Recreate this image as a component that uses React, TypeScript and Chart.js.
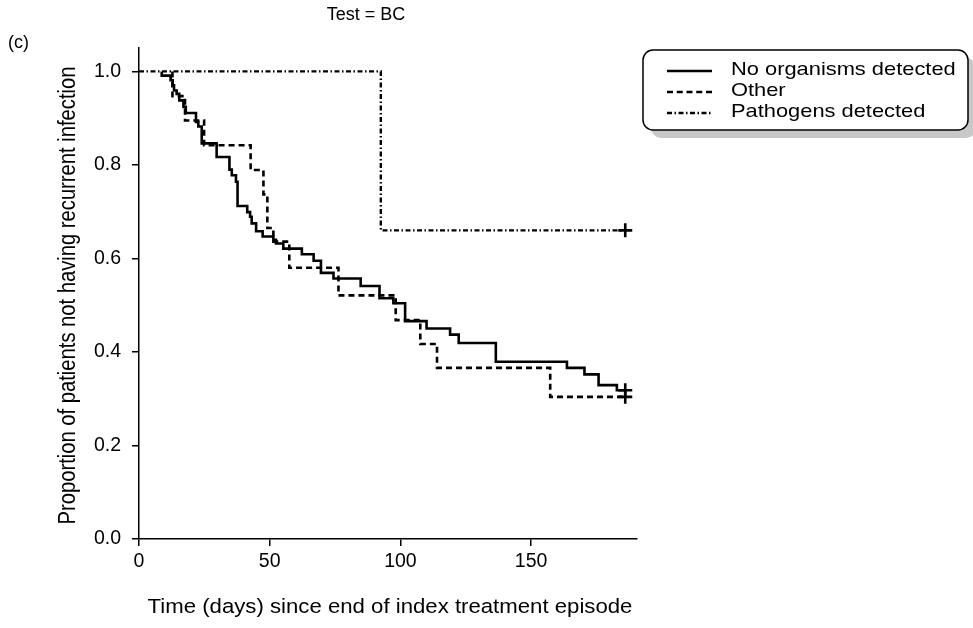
import React, { useEffect, useRef } from "react";
import { Chart, registerables } from "chart.js";

Chart.register(...registerables);

// ---- data ----
const seriesLabels = ["No organisms detected", "Other", "Pathogens detected"];

const noOrgDays = [8.7, 8.7, 12.1, 12.9, 13.4, 14.4, 15.4, 17, 17.9, 21.8, 22.7, 24, 29.7, 34.6, 35.5, 37.1, 37.7, 41.4, 42.5, 43.1, 44.8, 47.3, 51.4, 52.4, 55.2, 62.3, 66.8, 69.6, 74.4, 84.8, 92, 97.3, 101.8, 110, 119, 122.3, 136.5, 163.7, 170.4, 175.8, 182.8, 186];
const noOrgSurv = [1, 0.991, 0.981, 0.97, 0.959, 0.952, 0.938, 0.924, 0.911, 0.892, 0.882, 0.846, 0.817, 0.79, 0.778, 0.764, 0.712, 0.699, 0.689, 0.675, 0.658, 0.647, 0.64, 0.632, 0.621, 0.609, 0.595, 0.569, 0.557, 0.541, 0.515, 0.504, 0.466, 0.45, 0.437, 0.419, 0.379, 0.366, 0.352, 0.329, 0.318, 0.318];

const otherDays = [12.8, 12.8, 17.6, 24.9, 42.7, 47.6, 49.1, 51.4, 57.5, 76.3, 98.2, 107.6, 114, 157.3, 186];
const otherSurv = [1, 0.947, 0.895, 0.842, 0.789, 0.737, 0.665, 0.636, 0.58, 0.521, 0.468, 0.417, 0.366, 0.304, 0.304];

const pathDays = [0, 92.5, 186];
const pathSurv = [1, 0.66, 0.66];

const censorDays = [186, 186, 186];
const censorSurv = [0.318, 0.304, 0.66];

const xTicks = [0, 50, 100, 150];
const yTicks = [0, 0.2, 0.4, 0.6, 0.8, 1.0];

const panelLabel = "(c)";
const chartTitle = "Test = BC";
const xTitle = "Time (days) since end of index treatment episode";
const yTitle = "Proportion of patients not having recurrent infection";

// ---- styles ----
const FONT = '"Liberation Sans", Arial, Helvetica, sans-serif';
const dashStyles: number[][] = [[], [6, 4], [5, 2.5, 1.5, 2.5]];
const lineWidths = [2.6, 2.6, 2.4];

const toPoints = (xs: number[], ys: number[]) => xs.map((x, i) => ({ x, y: ys[i] }));

export default function App() {
  const ref = useRef<HTMLCanvasElement>(null);

  useEffect(() => {
    const canvas = ref.current;
    if (!canvas) return;

    const annot = {
      id: "annot",
      afterDraw(chart: any) {
        const ctx = chart.ctx as CanvasRenderingContext2D;
        const area = chart.chartArea;
        const txt = (s: string, x: number, y: number, size: number, align: CanvasTextAlign, stretch = 1.15) => {
          ctx.save();
          ctx.font = `${size}px ${FONT}`;
          ctx.fillStyle = "#000";
          ctx.textBaseline = "middle";
          ctx.textAlign = align;
          ctx.translate(x, y);
          ctx.scale(stretch, 1);
          ctx.fillText(s, 0, 0);
          ctx.restore();
        };
        txt(panelLabel, 8, 43, 18, "left", 1);
        txt(chartTitle, 366, 15, 18, "center", 1);
        txt(xTitle, (area.left + area.right) / 2 + 2, 608, 19.3, "center");

        // y title (rotated)
        ctx.save();
        ctx.translate(69, (area.top + area.bottom) / 2 + 2);
        ctx.rotate(-Math.PI / 2);
        ctx.scale(1, 1.15);
        ctx.font = `20.2px ${FONT}`;
        ctx.fillStyle = "#000";
        ctx.textAlign = "center";
        ctx.textBaseline = "middle";
        ctx.fillText(yTitle, 0, 0);
        ctx.restore();

        // legend box with shadow
        const bx = 643, by = 50, bw = 325, bh = 80, r = 10;
        const rr = (x: number, y: number) => {
          ctx.beginPath();
          ctx.moveTo(x + r, y);
          ctx.lineTo(x + bw - r, y);
          ctx.arcTo(x + bw, y, x + bw, y + r, r);
          ctx.lineTo(x + bw, y + bh - r);
          ctx.arcTo(x + bw, y + bh, x + bw - r, y + bh, r);
          ctx.lineTo(x + r, y + bh);
          ctx.arcTo(x, y + bh, x, y + bh - r, r);
          ctx.lineTo(x, y + r);
          ctx.arcTo(x, y, x + r, y, r);
          ctx.closePath();
        };
        ctx.save();
        rr(bx + 8, by + 8);
        ctx.fillStyle = "#c8c8c8";
        ctx.fill();
        rr(bx, by);
        ctx.fillStyle = "#fff";
        ctx.fill();
        ctx.lineWidth = 1.5;
        ctx.strokeStyle = "#000";
        ctx.stroke();
        ctx.restore();

        const rows = [70, 91, 112];
        seriesLabels.forEach((lab, i) => {
          ctx.save();
          ctx.strokeStyle = "#000";
          ctx.lineWidth = lineWidths[i];
          ctx.setLineDash(i === 1 ? [6, 3.75] : dashStyles[i]);
          ctx.beginPath();
          ctx.moveTo(667, rows[i] + 1);
          ctx.lineTo(712, rows[i] + 1);
          ctx.stroke();
          ctx.restore();
          txt(lab, 731, rows[i], 19, "left");
        });
      },
    };

    const mkLine = (i: number, xs: number[], ys: number[]) => ({
      type: "line" as const,
      label: seriesLabels[i],
      data: toPoints(xs, ys),
      borderColor: "#000",
      borderWidth: lineWidths[i],
      borderDash: dashStyles[i],
      stepped: "before" as const,
      pointRadius: 0,
      fill: false,
      borderJoinStyle: "miter" as const,
      order: 3 - i,
    });

    const chart = new Chart(canvas, {
      type: "line",
      data: {
        datasets: [
          mkLine(0, noOrgDays, noOrgSurv),
          mkLine(1, otherDays, otherSurv),
          mkLine(2, pathDays, pathSurv),
          {
            type: "scatter" as const,
            label: "censored",
            data: toPoints(censorDays, censorSurv),
            pointStyle: "cross",
            pointRadius: 7,
            borderColor: "#000",
            borderWidth: 2.6,
            showLine: false,
            order: 0,
          } as any,
        ],
      },
      options: {
        animation: false,
        responsive: false,
        devicePixelRatio: 1,
        layout: { padding: { left: 0, top: 48, right: 336, bottom: 0 } },
        plugins: { legend: { display: false }, tooltip: { enabled: false }, title: { display: false } },
        scales: {
          x: {
            type: "linear",
            min: 0,
            max: 190.5,
            afterBuildTicks: (s: any) => { s.ticks = xTicks.map((v) => ({ value: v })); },
            afterFit: (s: any) => { s.height = 628 - 539; },
            grid: { drawOnChartArea: false, drawTicks: true, tickLength: 7, color: "#000", lineWidth: 1.5 },
            border: { display: true, color: "#000", width: 1.5 },
            ticks: { color: "#000", font: { family: FONT, size: 19.5 }, padding: 4, maxRotation: 0, callback: (v: any) => String(v) },
          },
          y: {
            type: "linear",
            min: 0,
            max: 1.05,
            afterBuildTicks: (s: any) => { s.ticks = yTicks.map((v) => ({ value: v })); },
            afterFit: (s: any) => { s.width = 139; },
            grid: { drawOnChartArea: false, drawTicks: true, tickLength: 7, color: "#000", lineWidth: 1.5 },
            border: { display: true, color: "#000", width: 1.5 },
            ticks: { color: "#000", font: { family: FONT, size: 19.5 }, padding: 11, callback: (v: any) => Number(v).toFixed(1) },
          },
        },
      } as any,
      plugins: [annot],
    });

    return () => chart.destroy();
  }, []);

  return (
    <div style={{ position: "absolute", left: 0, top: 0, width: 973, height: 628, background: "#fff" }}>
      <canvas ref={ref} width={973} height={628} style={{ width: 973, height: 628, display: "block" }} />
    </div>
  );
}
